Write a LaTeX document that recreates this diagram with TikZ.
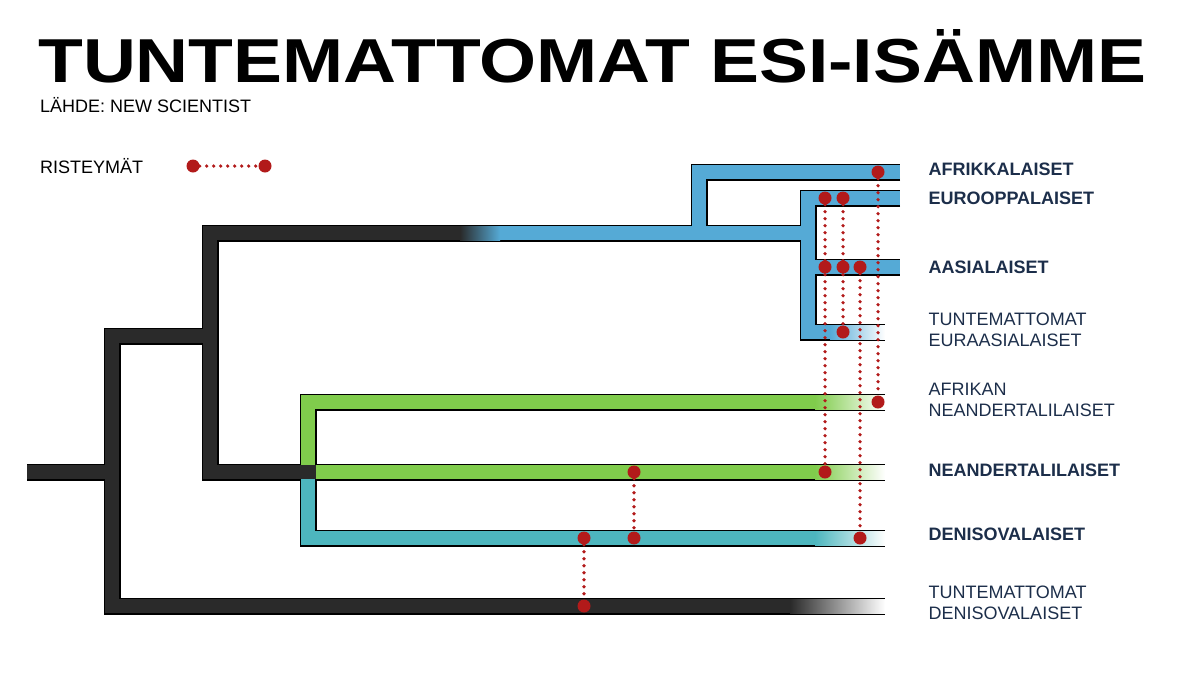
\documentclass[tikz,border=0pt]{standalone}
\usepackage{fontspec}
\setmainfont{Liberation Sans}
\usetikzlibrary{positioning}
\definecolor{bandblack}{HTML}{2A2A2A}
\definecolor{bandblue}{HTML}{55AAD6}
\definecolor{bandgreen}{HTML}{80CC4C}
\definecolor{bandteal}{HTML}{4DB6BE}
\definecolor{dotred}{HTML}{B21A1A}
\definecolor{labelnavy}{HTML}{1C2E4A}
\begin{document}
\begin{tikzpicture}[x=1pt,y=-1pt,
    edge/.style={line width=17pt, draw=black, line join=miter},
    fillb/.style={line width=14pt, draw=#1, line join=miter},
    cross/.style={dotred, line width=3.6pt, dash pattern=on 0pt off 7pt, line cap=round},
    hit/.style={fill=dotred, circle, inner sep=0pt, minimum size=13pt},
    bold label/.style={anchor=west, font=\bfseries\fontsize{18}{21}\selectfont, text=labelnavy},
    thin label/.style={anchor=west, align=left, font=\fontsize{18}{21}\selectfont, text=labelnavy}]
\useasboundingbox (0,0) rectangle (1199,675);
% title
\node[anchor=west, font=\bfseries\fontsize{64}{64}\selectfont, inner sep=0pt] (title) at (38,56) {\resizebox{1108pt}{53pt}{TUNTEMATTOMAT ESI-ISÄMME}};
\node[anchor=west, font=\fontsize{18}{21}\selectfont, inner sep=0pt] (source) at (40,105) {LÄHDE: NEW SCIENTIST};
\node[anchor=west, font=\fontsize{18}{21}\selectfont, inner sep=0pt] (legend) at (40,166) {RISTEYMÄT};
\node[hit] (la) at (193,166) {};
\node[hit] (lb) at (265,166) {};
\draw[cross] (la) -- (lb);
% outlines
\foreach \p in {{(27,472) -- (112,472)}, {(210,336) -- (112,336) -- (112,606) -- (885,606)},
    {(310,472) -- (210,472) -- (210,233) -- (808,233)},
    {(885,402) -- (308,402) -- (308,538) -- (885,538)}, {(308,472) -- (885,472)},
    {(900,172) -- (699,172) -- (699,233)}, {(900,198) -- (808,198) -- (808,332) -- (885,332)},
    {(808,267) -- (900,267)}}
  \draw[edge] \p;
% fills
\draw[fillb=bandblack] (27,472) -- (112,472);
\draw[fillb=bandblack] (210,336) -- (112,336) -- (112,606) -- (885,606);
\draw[fillb=bandblack] (310,472) -- (210,472) -- (210,233) -- (470,233);
\draw[fillb=bandblue] (490,233) -- (808,233);
\shade[left color=bandblack, right color=bandblue] (460,226) rectangle (500,240);
\draw[fillb=bandgreen] (885,402) -- (308,402) -- (308,472);
\draw[fillb=bandteal] (308,472) -- (308,538) -- (885,538);
\draw[fillb=bandgreen] (316,472) -- (885,472);
\fill[bandblack] (290,465) rectangle (316,479);
\draw[fillb=bandblue] (900,172) -- (699,172) -- (699,233);
\draw[fillb=bandblue] (900,198) -- (808,198) -- (808,332) -- (885,332);
\draw[fillb=bandblue] (808,267) -- (900,267);
% fading ends
\shade[left color=bandgreen, right color=white] (815,395) rectangle (885,409);
\shade[left color=bandgreen, right color=white] (815,465) rectangle (885,479);
\shade[left color=bandteal, right color=white] (815,531) rectangle (885,545);
\shade[left color=bandblue, right color=white] (830,325) rectangle (885,339);
\shade[left color=bandblack, right color=white] (790,599) rectangle (885,613);
% crossings
\foreach \n/\x/\y in {a1/878/172, a2/878/402, b1/825/198, b2/825/472, c1/843/198, c2/843/332,
    d1/860/267, d2/860/538, e1/634/472, e2/634/538, f1/584/538, f2/584/606}
  \node[hit] (\n) at (\x,\y) {};
\node[hit] (g1) at (825,267) {};
\node[hit] (g2) at (843,267) {};
\foreach \u/\v in {a1/a2, b1/b2, c1/c2, d1/d2, e1/e2, f1/f2}
  \draw[cross] (\u) -- (\v);
% labels
\node[bold label] (afr) at (925,169) {AFRIKKALAISET};
\node[bold label] (eur) at (925,198) {EUROOPPALAISET};
\node[bold label] (asi) at (925,267) {AASIALAISET};
\node[thin label] (eura) at (925,330) {TUNTEMATTOMAT\\EURAASIALAISET};
\node[thin label] (afne) at (925,400) {AFRIKAN\\NEANDERTALILAISET};
\node[bold label] (nea) at (925,470) {NEANDERTALILAISET};
\node[bold label] (den) at (925,534) {DENISOVALAISET};
\node[thin label] (tden) at (925,603) {TUNTEMATTOMAT\\DENISOVALAISET};
\end{tikzpicture}
\end{document}
